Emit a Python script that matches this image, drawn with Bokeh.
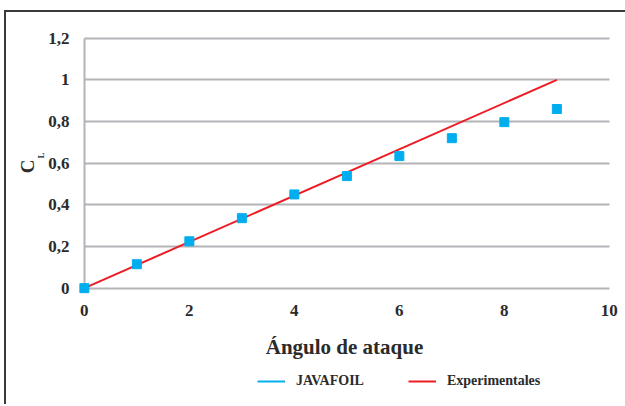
from bokeh.plotting import figure
from bokeh.layouts import column
from bokeh.models import Range1d, FixedTicker, Legend, LegendItem, Title
from bokeh.embed import file_html
from bokeh.resources import INLINE

# ---- data ----
angles_javafoil = [0, 1, 2, 3, 4, 5, 6, 7, 8, 9]
cl_javafoil = [0.0, 0.115, 0.225, 0.336, 0.45, 0.538, 0.634, 0.72, 0.797, 0.86]
angles_exp = [0, 9]
cl_exp = [0.0, 1.0]
x_ticks = [0, 2, 4, 6, 8, 10]
y_ticks = [0, 0.2, 0.4, 0.6, 0.8, 1, 1.2]
y_tick_labels = ["0", "0,2", "0,4", "0,6", "0,8", "1", "1,2"]
x_title = "Ángulo de ataque"
y_title_main = "C"
y_title_sub = "L"
series_names = ["JAVAFOIL", "Experimentales"]

FONT = "Liberation Serif"
TXT = "#2b2b2b"
BLUE = "#00AEEF"
RED = "#ED1C24"
GRID = "#B4B4B8"

p = figure(frame_width=536, frame_height=260, output_backend="svg", toolbar_location=None,
           x_range=Range1d(-0.15, 10.06), y_range=Range1d(-0.04, 1.208),
           min_border_left=70, min_border_right=13, min_border_top=24, min_border_bottom=70)
p.outline_line_color = None
p.background_fill_color = "white"
p.border_fill_color = "white"

# grid
p.ygrid.ticker = FixedTicker(ticks=y_ticks)
p.ygrid.grid_line_color = GRID
p.ygrid.grid_line_width = 2
p.ygrid.cross_bounds = (0, 10)
p.xgrid.ticker = FixedTicker(ticks=[0])
p.xgrid.grid_line_color = GRID
p.xgrid.grid_line_width = 2
p.xgrid.cross_bounds = (0, 1.2)

# axes
for ax in (p.xaxis[0], p.yaxis[0]):
    ax.axis_line_color = None
    ax.major_tick_line_color = None
    ax.minor_tick_line_color = None
    ax.major_label_text_font = FONT
    ax.major_label_text_font_style = "bold"
    ax.major_label_text_font_size = "17px"
    ax.major_label_text_color = TXT

p.xaxis.ticker = FixedTicker(ticks=x_ticks)
p.xaxis.major_label_standoff = 2
p.xaxis.axis_label = x_title
p.xaxis.axis_label_text_font = FONT
p.xaxis.axis_label_text_font_style = "bold"
p.xaxis.axis_label_text_font_size = "21px"
p.xaxis.axis_label_text_color = TXT
p.xaxis.axis_label_standoff = 16

p.yaxis.ticker = FixedTicker(ticks=y_ticks)
p.yaxis.major_label_overrides = {t: l for t, l in zip(y_ticks, y_tick_labels)}
p.yaxis.major_label_standoff = 1

# y title C_L (subscript closer to the axis, slightly above the C)
p.add_layout(Title(text=y_title_sub, align="left", offset=138, standoff=0,
                   text_font=FONT, text_font_style="bold", text_font_size="9px",
                   text_color=TXT), "left")
p.add_layout(Title(text=y_title_main, align="center", standoff=-9,
                   text_font=FONT, text_font_style="bold", text_font_size="19px",
                   text_color=TXT), "left")

# series
r_exp = p.line(angles_exp, cl_exp, line_color=RED, line_width=2)
r_jav = p.scatter(angles_javafoil, cl_javafoil, marker="square", size=9,
                  fill_color=BLUE, line_color=BLUE)

# legend strip (separate small figure so the legend is not clipped)
p2 = figure(width=619, height=38, output_backend="svg", toolbar_location=None,
            x_range=Range1d(0, 1), y_range=Range1d(0, 1),
            x_axis_type=None, y_axis_type=None,
            min_border_left=0, min_border_right=0, min_border_top=0, min_border_bottom=0)
p2.outline_line_color = None
p2.grid.visible = False
l_jav = p2.line([float("nan")], [float("nan")], line_color=BLUE, line_width=2)
l_exp = p2.line([float("nan")], [float("nan")], line_color=RED, line_width=2)

legend = Legend(items=[LegendItem(label=series_names[0], renderers=[l_jav]),
                       LegendItem(label=series_names[1], renderers=[l_exp])],
                orientation="horizontal", location=(181, 13),
                padding=0, margin=0, spacing=44,
                glyph_width=28, glyph_height=20, label_height=20, label_standoff=11,
                border_line_color=None, background_fill_alpha=0,
                label_text_font=FONT, label_text_font_style="bold",
                label_text_font_size="14px", label_text_color=TXT)
p2.add_layout(legend, "center")

layout = column(p, p2, spacing=0,
                styles={"border-left": "2px solid #3a3a3a", "border-top": "2px solid #3a3a3a",
                        "margin-left": "4px", "margin-top": "10px"})

open("out.html", "w").write(file_html(layout, INLINE))
